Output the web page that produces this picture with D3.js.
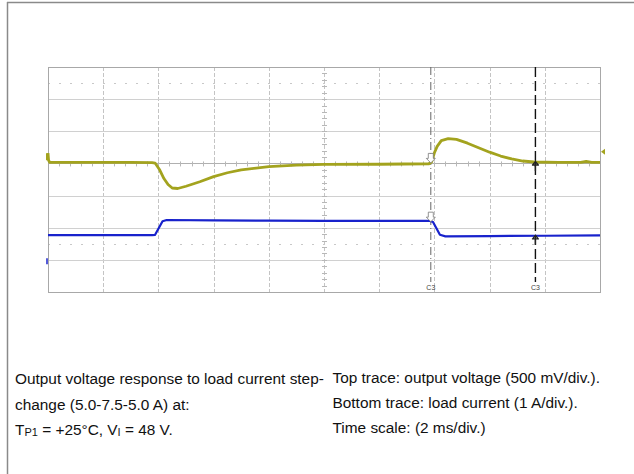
<!DOCTYPE html>
<html><head><meta charset="utf-8">
<script src="https://cdn.jsdelivr.net/npm/d3@7"></script>
<style>html,body{margin:0;padding:0;background:#fff;}svg{display:block;}</style>
</head><body>
<svg id="c" width="634" height="474"></svg>
<script>
// ---- data (time in ms, values in screen divisions from the centre line) ----
const topTime = [0,0.02,0.06,1.0,2.0,3.0,3.77,3.88,4.05,4.2,4.35,4.5,4.7,5.0,5.5,6.0,6.5,7.0,8.0,9.0,10.0,12.0,13.8,13.9,14.0,14.1,14.25,14.5,14.8,15.2,15.6,16.0,16.4,16.8,17.2,17.6,18.5,19.3,19.5,19.7,20.0];
const topDiv  = [0.32,0.10,0.03,0.03,0.03,0.03,0.028,0.012,-0.205,-0.47,-0.656,-0.765,-0.78,-0.71,-0.57,-0.41,-0.29,-0.20,-0.10,-0.05,-0.03,-0.025,-0.01,0.05,0.33,0.53,0.71,0.77,0.75,0.63,0.49,0.35,0.23,0.14,0.075,0.045,0.035,0.035,0.06,0.035,0.035];
const botTime = [0,2.0,3.77,3.88,4.15,4.3,6.0,8.0,10.0,12.0,13.85,13.95,14.2,14.4,16.0,18.0,20.0];
const botDiv  = [-2.23,-2.23,-2.23,-2.22,-1.80,-1.76,-1.77,-1.78,-1.79,-1.79,-1.79,-1.82,-2.22,-2.27,-2.26,-2.25,-2.24];
const cursorTimes = [13.87, 17.66];
const cursorLabels = ["C3","C3"];
const xTicks = d3.range(0, 21, 2);          // 10 divisions of 2 ms
const yGrid  = d3.range(-4, 4, 1);          // visible divisions
const captionLeft = ["Output voltage response to load current step-","change (5.0-7.5-5.0 A) at:"];
const captionRight = ["Top trace: output voltage (500 mV/div.).","Bottom trace: load current (1 A/div.).","Time scale: (2 ms/div.)"];

const svg = d3.select("#c");
// page frame
svg.append("line").attr("x1",7.5).attr("x2",7.5).attr("y1",2).attr("y2",474).attr("stroke","#8a8a8a").attr("stroke-width",1.5);
svg.append("line").attr("x1",7).attr("x2",634).attr("y1",2.5).attr("y2",2.5).attr("stroke","#8a8a8a").attr("stroke-width",1.5);

const L=48, R=600, T=67, B=292;
const x = d3.scaleLinear().domain([0,20]).range([L,R]);
const y = d3.scaleLinear().domain([-4,3]).range([B,T]);

const g = svg.append("g");
// grid verticals (dashed)
g.selectAll(".vg").data(xTicks.slice(1,-1)).enter().append("line")
  .attr("x1",d=>Math.round(x(d))+0.5).attr("x2",d=>Math.round(x(d))+0.5).attr("y1",T).attr("y2",B)
  .attr("stroke","#c4c4c4").attr("stroke-width",1).attr("stroke-dasharray","4,2");
// grid horizontals
g.selectAll(".hg").data(yGrid.slice(1)).enter().append("line")
  .attr("x1",L).attr("x2",R).attr("y1",d=>Math.round(y(d))+0.5).attr("y2",d=>Math.round(y(d))+0.5)
  .attr("stroke",d=>d===0?"#b0b0b0":"#d0d0d0").attr("stroke-width",1);
// minor dotted rows
[2.5,-2.5].forEach(v=>{
  g.append("line").attr("x1",L).attr("x2",R).attr("y1",Math.round(y(v))+0.5).attr("y2",Math.round(y(v))+0.5)
   .attr("stroke","#c8c8c8").attr("stroke-dasharray","2,9");
});
// ticks on centre axes
const minor = d3.range(0,20.01,0.4);
g.selectAll(".tx").data(minor).enter().append("line")
  .attr("x1",d=>Math.round(x(d))+0.5).attr("x2",d=>Math.round(x(d))+0.5).attr("y1",y(0)-2).attr("y2",y(0)+3)
  .attr("stroke","#b8b8b8");
const minorY = d3.range(-4,3.01,0.2);
g.selectAll(".ty").data(minorY).enter().append("line")
  .attr("y1",d=>Math.round(y(d))+0.5).attr("y2",d=>Math.round(y(d))+0.5).attr("x1",x(10)-2).attr("x2",x(10)+3)
  .attr("stroke","#b8b8b8");
// border
g.append("rect").attr("x",L+0.5).attr("y",T+0.5).attr("width",R-L).attr("height",B-T)
  .attr("fill","none").attr("stroke","#a8a8a8").attr("stroke-width",1);

// cursors
g.append("line").attr("x1",x(cursorTimes[0])).attr("x2",x(cursorTimes[0])).attr("y1",T).attr("y2",B-10)
  .attr("stroke","#666").attr("stroke-width",1).attr("stroke-dasharray","8,3,1,3");
g.append("line").attr("x1",x(cursorTimes[1])).attr("x2",x(cursorTimes[1])).attr("y1",T).attr("y2",B-10)
  .attr("stroke","#111").attr("stroke-width",1.4).attr("stroke-dasharray","10,4");
g.selectAll(".cl").data(cursorTimes).enter().append("text")
  .attr("x",d=>x(d)).attr("y",B-2).attr("text-anchor","middle")
  .attr("font-family","Liberation Sans, Arial, sans-serif").attr("font-size",7).attr("fill","#444")
  .text((d,i)=>cursorLabels[i]);

// traces
const line = d3.line().x(d=>x(d[0])).y(d=>y(d[1]));
const topPts = topTime.map((t,i)=>[t,topDiv[i]]);
const botPts = botTime.map((t,i)=>[t,botDiv[i]]);
g.append("path").attr("d",line(topPts)).attr("fill","none").attr("stroke","#a3a31e").attr("stroke-width",2.8).attr("stroke-linejoin","round");
g.append("path").attr("d",line(botPts)).attr("fill","none").attr("stroke","#1822cc").attr("stroke-width",2.2).attr("stroke-linejoin","round");

// cursor markers on traces
function interp(ts,vs,t){return d3.scaleLinear().domain(ts).range(vs)(t);}
[[topTime,topDiv],[botTime,botDiv]].forEach(([ts,vs])=>{
  const c0 = cursorTimes[0], v0 = interp(ts,vs,c0);
  g.append("path").attr("d",`M${x(c0)-2.5},${y(v0)-9}h5v5h2l-4.5,4.5l-4.5,-4.5h2z`)
    .attr("fill","#fff").attr("stroke","#777").attr("stroke-width",0.8);
  const c1 = cursorTimes[1], v1 = interp(ts,vs,c1);
  g.append("path").attr("d",`M${x(c1)},${y(v1)}v9M${x(c1)-3.5},${y(v1)+3}h7M${x(c1)-2.5},${y(v1)+2.5}l2.5,-3l2.5,3`)
    .attr("fill","none").attr("stroke","#222").attr("stroke-width",1.3);
});
// channel markers
g.append("path").attr("d",`M${L-1},${y(0.32)}v7`).attr("stroke","#a3a31e").attr("stroke-width",2);
g.append("path").attr("d",`M${L-1},${y(-2.95)}v6`).attr("stroke","#1822cc").attr("stroke-width",1.5);
g.append("path").attr("d",`M${R+1},${y(0.36)}l4,-3v6z`).attr("fill","#a3a31e");

// captions
const font = "Liberation Sans, Arial, sans-serif";
const fs = 15.4;
const tl = svg.append("text").attr("font-family",font).attr("font-size",fs).attr("fill","#111");
captionLeft.forEach((s,i)=>tl.append("tspan").attr("x",15).attr("y",384+i*25.5).text(s));
const t3 = svg.append("text").attr("font-family",font).attr("font-size",fs).attr("fill","#111").attr("x",15).attr("y",435);
t3.append("tspan").text("T");
t3.append("tspan").attr("font-size",11).attr("dy",1).text("P1");
t3.append("tspan").attr("dy",-1).text(" = +25°C, V");
t3.append("tspan").attr("font-size",11).attr("dy",1).text("I");
t3.append("tspan").attr("dy",-1).text(" = 48 V.");
const tr = svg.append("text").attr("font-family",font).attr("font-size",fs).attr("fill","#111");
captionRight.forEach((s,i)=>tr.append("tspan").attr("x",332.5).attr("y",383+i*25).text(s));
</script>
</body></html>
